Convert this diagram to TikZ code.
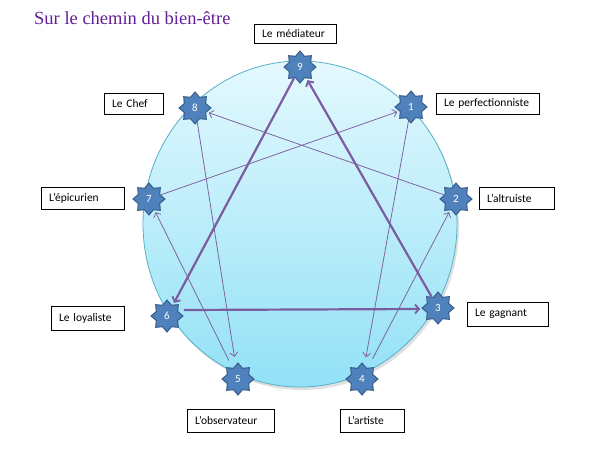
\documentclass[tikz,border=0pt]{standalone}
\usepackage{fontspec}
\newfontfamily\lblfont{Carlito}
\newfontfamily\titlefont{Liberation Serif}
\usetikzlibrary{shapes.geometric,arrows.meta}
\definecolor{titlepurple}{RGB}{100,30,150}
\definecolor{linepurple}{RGB}{128,100,162}
\definecolor{thickpurple}{RGB}{124,92,160}
\definecolor{starfill}{RGB}{79,129,189}
\definecolor{stardraw}{RGB}{56,93,138}
\definecolor{circtop}{RGB}{228,249,254}
\definecolor{circbot}{RGB}{146,225,246}
\definecolor{circedge}{RGB}{86,176,200}
\tikzset{
  starnode/.style={star, star points=8, star point ratio=1.38, minimum size=32pt,
    inner sep=0pt, fill=starfill, draw=stardraw, line width=1pt,
    text=white, font=\lblfont\fontsize{11}{12}\selectfont},
  lblbox/.style={draw=black, line width=0.8pt, fill=white, inner xsep=8pt, inner ysep=0pt,
    align=left, font=\lblfont\fontsize{11.5}{13}\selectfont},
  thinarrow/.style={draw=linepurple, line width=0.8pt,
    -{Straight Barb[length=4pt,width=8pt,line width=0.8pt]}},
  thickarrow/.style={draw=thickpurple, line width=2.2pt,
    -{Straight Barb[length=4pt,width=9pt,line width=1.8pt]}}
}
\begin{document}
\begin{tikzpicture}[x=1pt,y=-1pt]
\useasboundingbox (0,0) rectangle (593,457);
% shadow and circle
\fill[black!12] (302,227) ellipse [x radius=157pt, y radius=163pt];
\shade[top color=circtop, bottom color=circbot, draw=circedge, line width=0.8pt]
  (300,224) ellipse [x radius=157pt, y radius=163pt];
% title
\node[anchor=base west, inner sep=0pt, text=titlepurple,
  font=\titlefont\fontsize{18.5}{21}\selectfont] (title) at (34,25) {Sur le chemin du bien-être};
% stars
\node[starnode] (s9) at (300,67) {9};
\node[starnode] (s1) at (411,107) {1};
\node[starnode] (s2) at (456,199) {2};
\node[starnode] (s3) at (438,308) {3};
\node[starnode] (s4) at (362,379) {4};
\node[starnode] (s5) at (238,379) {5};
\node[starnode] (s6) at (167,316) {6};
\node[starnode] (s7) at (149,199) {7};
\node[starnode] (s8) at (195,108) {8};
% labels
\node[lblbox, text width=66pt, minimum height=19pt] (l9) at (295,33.5) {Le médiateur};
\node[lblbox, text width=43pt, minimum height=21pt] (l8) at (133.5,103.5) {Le Chef};
\node[lblbox, text width=87pt, minimum height=21pt] (l1) at (487.5,103.5) {Le perfectionniste};
\node[lblbox, text width=67pt, minimum height=22pt] (l7) at (82.5,198) {L’épicurien};
\node[lblbox, text width=59pt, minimum height=22pt] (l2) at (516.5,198) {L’altruiste};
\node[lblbox, text width=57pt, minimum height=24pt] (l6) at (87.5,318) {Le loyaliste};
\node[lblbox, text width=65pt, minimum height=24pt] (l3) at (507.5,314) {Le gagnant};
\node[lblbox, text width=71pt, minimum height=23pt] (l5) at (230.5,420.5) {L’observateur};
\node[lblbox, text width=48pt, minimum height=23pt] (l4) at (372,420.5) {L’artiste};
% thin arrows
\draw[thinarrow, shorten >=8pt] (s1) -- (s4);
\draw[thinarrow, shorten >=2pt] (s2) -- (s8);
\draw[thinarrow, shorten <=10pt, shorten >=2pt] (s4) -- (s2);
\draw[thinarrow, shorten <=8pt, shorten >=2pt] (s5) -- (s7);
\draw[thinarrow, shorten >=2pt] (s7) -- (s1);
\draw[thinarrow, shorten >=8pt] (s8) -- (s5);
% thick arrows
\draw[thickarrow, shorten >=2pt] (s9) -- (s6);
\draw[thickarrow, shorten >=1pt] ([yshift=6pt]s6.east) -- ([yshift=-1pt]s3.west);
\draw[thickarrow, shorten >=2pt] (s3) -- (s9);
\end{tikzpicture}
\end{document}
